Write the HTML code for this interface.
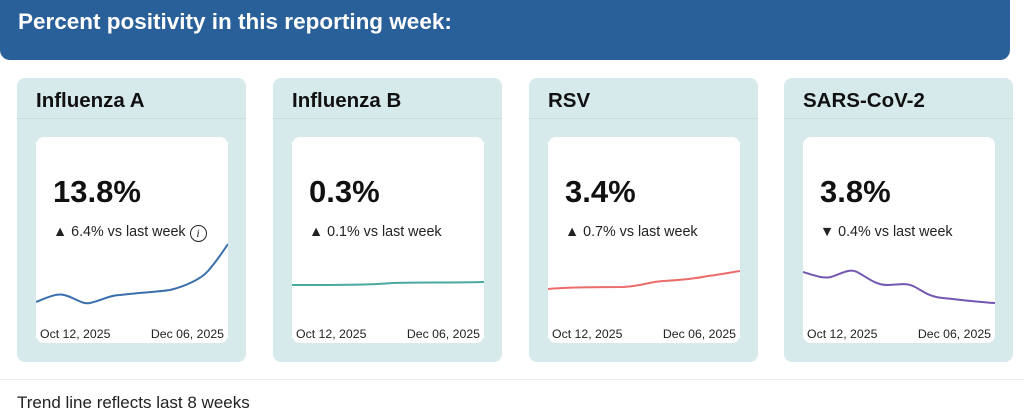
<!DOCTYPE html>
<html><head><style>
body{margin:0;width:1024px;height:418px;background:#fff;font-family:"Liberation Sans",sans-serif;position:relative;overflow:hidden}
.hdr{position:absolute;left:0;top:0;width:1010px;height:60px;background:#2a6099;border-radius:0 0 10px 10px;color:#fff;font-weight:bold;font-size:22.5px}
.hdr span{position:absolute;left:18px;top:9px}
.card{position:absolute;top:78px;width:229px;height:284px;background:#d7eaeb;border-radius:8px}
.ch{position:absolute;left:0;top:0;right:0;height:40px;border-bottom:1px solid #c6dcdd;border-radius:8px 8px 0 0}
.ch span{position:absolute;left:19px;top:11px;font-size:20.5px;font-weight:bold;color:#111}
.in{position:absolute;left:19px;top:59px;width:192px;height:206px;background:#fff;border-radius:8px;overflow:hidden}
.big{position:absolute;left:17px;top:37px;font-size:31px;font-weight:bold;color:#111}
.chg{position:absolute;left:17px;top:87px;font-size:14.3px;color:#222}
.d{position:absolute;top:190px;font-size:12.3px;color:#222}
.foot{position:absolute;left:0;top:379px;width:1024px;border-top:1px solid #eee}
.ft{position:absolute;left:17px;top:393px;font-size:17px;color:#222}
svg{position:absolute;left:0;top:0}
</style></head><body>
<div class="hdr"><span>Percent positivity in this reporting week:</span></div>

<div class="card" style="left:17px"><div class="ch"><span>Influenza A</span></div>
<div class="in"><div class="big">13.8%</div><div class="chg">▲ 6.4% vs last week <span style="display:inline-block;width:15px;height:15px;border:1px solid #222;border-radius:50%;font-size:12px;text-align:center;line-height:15px;font-style:italic;font-family:'Liberation Serif',serif;vertical-align:-1px">i</span></div>
<svg width="192" height="206"><path d="M0,165 C10,161 20,156 28,158 C38,160 46,168 54,166 C64,164 74,158 84,158 C100,156 120,155 134,153 C150,149 165,142 172,134 C180,125 186,116 192,107" fill="none" stroke="#3a6fad" stroke-width="2"/></svg>
<div class="d" style="left:4px">Oct 12, 2025</div><div class="d" style="right:4px">Dec 06, 2025</div></div></div>

<div class="card" style="left:273px"><div class="ch"><span>Influenza B</span></div>
<div class="in"><div class="big">0.3%</div><div class="chg">▲ 0.1% vs last week</div>
<svg width="192" height="206"><path d="M0,148 C40,148 80,148 100,146 C130,145 150,146 192,145" fill="none" stroke="#4aa9a0" stroke-width="2"/></svg>
<div class="d" style="left:4px">Oct 12, 2025</div><div class="d" style="right:4px">Dec 06, 2025</div></div></div>

<div class="card" style="left:529px"><div class="ch"><span>RSV</span></div>
<div class="in"><div class="big">3.4%</div><div class="chg">▲ 0.7% vs last week</div>
<svg width="192" height="206"><path d="M0,152 C20,150 50,150 75,150 C95,149 100,145 115,144 C135,143 150,141 160,139 C175,137 185,135 192,134" fill="none" stroke="#ec6b6b" stroke-width="2"/></svg>
<div class="d" style="left:4px">Oct 12, 2025</div><div class="d" style="right:4px">Dec 06, 2025</div></div></div>

<div class="card" style="left:784px"><div class="ch"><span>SARS-CoV-2</span></div>
<div class="in"><div class="big">3.8%</div><div class="chg">▼ 0.4% vs last week</div>
<svg width="192" height="206"><path d="M0,135 C10,138 20,142 28,140 C38,137 46,131 54,135 C64,140 72,148 84,148 C95,148 104,145 112,150 C120,154 126,160 140,161 C160,163 175,165 192,166" fill="none" stroke="#7457b0" stroke-width="2"/></svg>
<div class="d" style="left:4px">Oct 12, 2025</div><div class="d" style="right:4px">Dec 06, 2025</div></div></div>

<div class="foot"></div>
<div class="ft">Trend line reflects last 8 weeks</div>
</body></html>
